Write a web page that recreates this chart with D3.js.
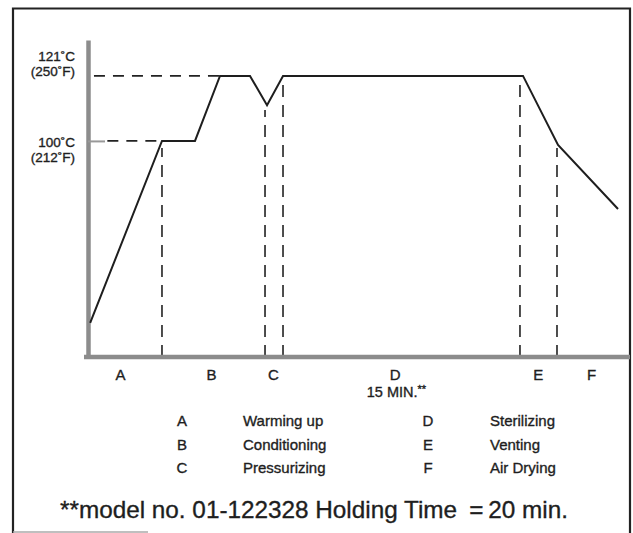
<!DOCTYPE html>
<html>
<head>
<meta charset="utf-8">
<script src="https://cdn.jsdelivr.net/npm/d3@7"></script>
<style>
  body { margin: 0; background: #fff; }
  text { font-family: "Liberation Sans", Arial, Helvetica, sans-serif; fill: #1e1e1e; stroke: #1e1e1e; stroke-width: 0.35px; }
</style>
</head>
<body>
<script>
// sterilization cycle: chamber temperature over time (time in arbitrary units)
var times = [0.4, 13.65, 19.74, 24.35, 29.89, 33.03, 35.98, 80.26, 86.72, 97.79];
var temps = [41.2, 100, 100, 121, 121, 111.5, 121, 121, 98.7, 78];

var tempTicks = [121, 100];
var tempCLabels = ["121\u02daC", "100\u02daC"];
var tempFLabels = ["(250\u02daF)", "(212\u02daF)"];
var guideEnds = [24.35, 13.65];   // where the dashed guides meet the curve

var phaseBounds = [13.65, 32.66, 35.98, 79.7, 86.53];
var phaseBoundTops = [97.7, 110, 119.7, 119.7, 97.7];

var phaseKeys = ["A", "B", "C", "D", "E", "F"];
var phaseLabelAt = [5.9, 22.7, 34.1, 56.6, 83.0, 92.8];
var phaseNames = ["Warming up", "Conditioning", "Pressurizing", "Sterilizing", "Venting", "Air Drying"];

var holdNote = "15 MIN.";
var footnote = "**model no. 01-122328 Holding Time\u2002=\u200920 min.";

var width = 633,
    height = 533;

var svg = d3.select("body").append("svg")
    .attr("width", width)
    .attr("height", height);

svg.append("rect")
    .attr("width", width)
    .attr("height", height)
    .attr("fill", "#fff");

// outer frame (open at the bottom, like the scan)
svg.append("path")
    .attr("d", "M13,533 V8.5 H630 V533")
    .attr("fill", "none")
    .attr("stroke", "#222")
    .attr("stroke-width", 2.2);
svg.append("line")
    .attr("x1", 13).attr("x2", 148)
    .attr("y1", 532).attr("y2", 532)
    .attr("stroke", "#aaa")
    .attr("stroke-width", 1.5);

var x = d3.scaleLinear()
    .domain([0, 100])
    .range([88, 630]);

var y = d3.scaleLinear()
    .domain([30.2, 132.6])
    .range([357, 40]);

var line = d3.line()
    .x(function(d) { return x(d[0]); })
    .y(function(d) { return y(d[1]); });

// y axis: thick grey bar, one inner tick at 100
var yAxis = svg.append("g")
    .attr("transform", "translate(" + x(0) + ",0)")
    .call(d3.axisLeft(y).tickValues(tempTicks).tickSizeInner(-17).tickSizeOuter(0).tickFormat(""));
yAxis.select(".domain")
    .attr("stroke", "#8c8c8c")
    .attr("stroke-width", 4.5);
yAxis.selectAll(".tick line")
    .attr("stroke", "#999")
    .attr("stroke-width", 2)
    .attr("opacity", function(d) { return d === 100 ? 1 : 0; });

// two line temperature labels
var labOffsets = { 121: [-15, 0.5], 100: [6, 21.5] };
tempTicks.forEach(function(t, i) {
    var lab = svg.append("text")
        .attr("text-anchor", "end")
        .attr("font-size", 13.5);
    lab.append("tspan")
        .attr("x", 75)
        .attr("y", y(t) + labOffsets[t][0])
        .text(tempCLabels[i]);
    lab.append("tspan")
        .attr("x", 75)
        .attr("y", y(t) + labOffsets[t][1])
        .text(tempFLabels[i]);
});

// dashed guides
svg.append("line")
    .attr("x1", x(1.1)).attr("x2", x(guideEnds[0]))
    .attr("y1", y(121)).attr("y2", y(121))
    .attr("stroke", "#222")
    .attr("stroke-width", 1.6)
    .attr("stroke-dasharray", "11,8");
svg.append("line")
    .attr("x1", x(3.2)).attr("x2", x(guideEnds[1]))
    .attr("y1", y(100)).attr("y2", y(100))
    .attr("stroke", "#222")
    .attr("stroke-width", 1.6)
    .attr("stroke-dasharray", "11,8")
    .attr("stroke-dashoffset", 17);

svg.selectAll(".bound")
    .data(phaseBounds)
    .enter().append("line")
    .attr("class", "bound")
    .attr("x1", function(d) { return x(d); })
    .attr("x2", function(d) { return x(d); })
    .attr("y1", y.range()[0])
    .attr("y2", function(d, i) { return y(phaseBoundTops[i]); })
    .attr("stroke", "#222")
    .attr("stroke-width", 1.6)
    .attr("stroke-dasharray", "12,8");

// x axis: thick grey bar with phase letters
var xAxis = svg.append("g")
    .attr("transform", "translate(0," + y.range()[0] + ")")
    .call(d3.axisBottom(x).tickValues(phaseLabelAt).tickSize(0).tickPadding(12)
        .tickFormat(function(d, i) { return phaseKeys[i]; }));
xAxis.select(".domain")
    .attr("stroke", "#8c8c8c")
    .attr("stroke-width", 4.5)
    .attr("d", "M" + (x(0) - 4) + ",0H" + x(100));
xAxis.selectAll(".tick text")
    .attr("font-size", 15)
    .attr("fill", "#1e1e1e");

// the curve
svg.append("path")
    .datum(times.map(function(t, i) { return [t, temps[i]]; }))
    .attr("d", line)
    .attr("fill", "none")
    .attr("stroke", "#1e1e1e")
    .attr("stroke-width", 2)
    .attr("stroke-linejoin", "miter");

// holding time note under D
var note = svg.append("text")
    .attr("x", x(phaseLabelAt[3]) - 28)
    .attr("y", 397)
    .attr("font-size", 14.5);
note.append("tspan").text(holdNote);
note.append("tspan")
    .attr("font-size", 11)
    .attr("dy", -4)
    .text("**");

// legend
var legend = svg.append("g");
phaseKeys.forEach(function(k, i) {
    var col = Math.floor(i / 3),
        row = i % 3;
    var ly = 426 + row * 23.5;
    legend.append("text")
        .attr("x", col ? 428 : 182)
        .attr("y", ly)
        .attr("text-anchor", "middle")
        .attr("font-size", 15)
        .text(k);
    legend.append("text")
        .attr("x", col ? 490 : 243)
        .attr("y", ly)
        .attr("font-size", 15)
        .text(phaseNames[i]);
});

svg.append("text")
    .attr("x", 60)
    .attr("y", 518)
    .attr("font-size", 24.5)
    .attr("stroke-width", 0.15)
    .attr("textLength", 508)
    .attr("lengthAdjust", "spacingAndGlyphs")
    .text(footnote);
</script>
</body>
</html>
